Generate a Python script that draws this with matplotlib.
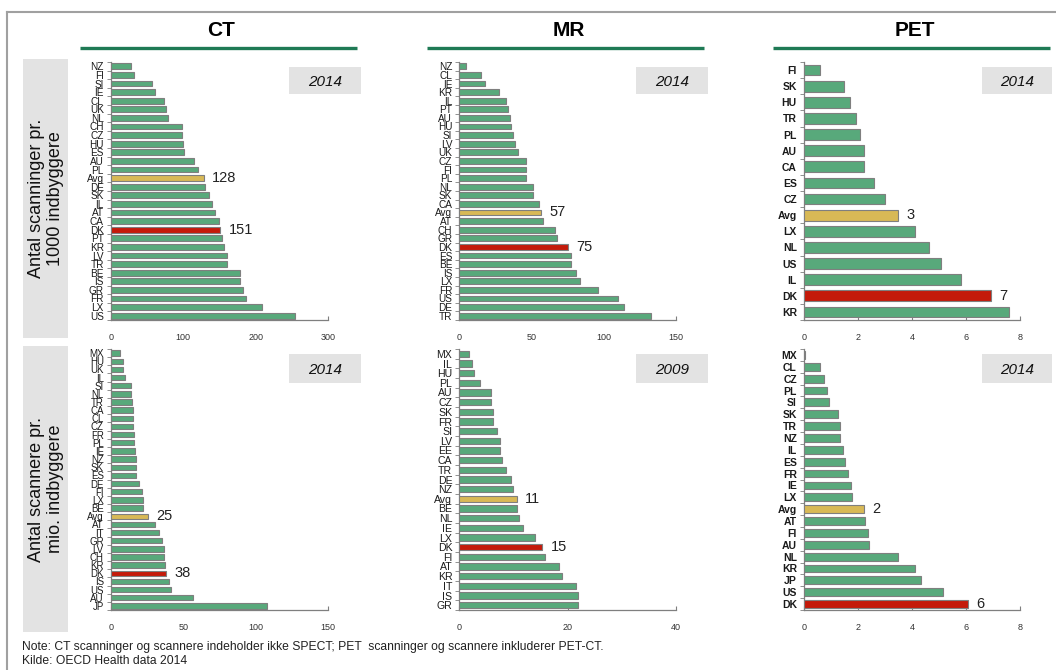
import numpy as np
import matplotlib.pyplot as plt
from matplotlib.patches import Rectangle
from matplotlib.lines import Line2D

plt.rcParams['font.family'] = ['Liberation Sans Narrow', 'Liberation Sans', 'DejaVu Sans']

# CT scanninger pr. 1000 indbyggere (2014)
ct_scan_land = ['NZ', 'FI', 'SI', 'IE', 'CL', 'UK', 'NL', 'CH', 'CZ', 'HU', 'ES', 'AU', 'PL', 'Avg',
                'DE', 'SK', 'IL', 'AT', 'CA', 'DK', 'PT', 'KR', 'LV', 'TR', 'BE', 'IS', 'GR', 'FR', 'LX', 'US']
ct_scan_val = [28, 32, 57, 61, 74, 76, 79, 98, 98, 99, 101, 115, 121, 128,
               130, 135, 140, 144, 149, 151, 153, 156, 160, 160, 178, 178, 182, 187, 208, 254]

# MR scanninger pr. 1000 indbyggere (2014)
mr_scan_land = ['NZ', 'CL', 'IE', 'KR', 'IL', 'PT', 'AU', 'HU', 'SI', 'LV', 'UK', 'CZ', 'FI', 'PL', 'NL',
                'SK', 'CA', 'Avg', 'AT', 'CH', 'GR', 'DK', 'ES', 'BE', 'IS', 'LX', 'FR', 'US', 'DE', 'TR']
mr_scan_val = [4.6, 14.8, 17.8, 27.2, 32, 33.5, 34.8, 35.5, 37, 38.3, 40.4, 46.4, 46.4, 46.4, 51.2,
               51.2, 55.4, 56.8, 58.2, 66.2, 67.6, 75, 77.3, 77.3, 80.5, 83.3, 95.8, 110, 114, 133]

# PET scanninger pr. 1000 indbyggere (2014)
pet_scan_land = ['FI', 'SK', 'HU', 'TR', 'PL', 'AU', 'CA', 'ES', 'CZ', 'Avg', 'LX', 'NL', 'US', 'IL', 'DK', 'KR']
pet_scan_val = [0.59, 1.5, 1.73, 1.95, 2.1, 2.24, 2.24, 2.61, 3.0, 3.48, 4.1, 4.62, 5.09, 5.82, 6.94, 7.61]

# CT scannere pr. mio. indbyggere (2014)
ct_unit_land = ['MX', 'HU', 'UK', 'IL', 'SI', 'NL', 'TR', 'CA', 'CL', 'CZ', 'FR', 'PL', 'IE', 'NZ', 'SK', 'ES',
                'DE', 'FI', 'LX', 'BE', 'Avg', 'AT', 'IT', 'GR', 'LV', 'CH', 'KR', 'DK', 'IS', 'US', 'AU', 'JP']
ct_unit_val = [6.2, 8.3, 8.3, 9.7, 13.9, 13.9, 14.6, 15.3, 15.3, 15.2, 15.9, 15.9, 16.6, 17.3, 17.3, 17.3,
               19.2, 21.3, 22.2, 22.2, 25.4, 30.3, 33, 35.6, 36.5, 36.5, 37.2, 37.9, 40, 41.4, 56.4, 107.7]

# MR scannere pr. mio. indbyggere (2009)
mr_unit_land = ['MX', 'IL', 'HU', 'PL', 'AU', 'CZ', 'SK', 'FR', 'SI', 'LV', 'EE', 'CA', 'TR', 'DE',
                'NZ', 'Avg', 'BE', 'NL', 'IE', 'LX', 'DK', 'FI', 'AT', 'KR', 'IT', 'IS', 'GR']
mr_unit_val = [1.85, 2.34, 2.7, 3.8, 5.8, 5.8, 6.15, 6.3, 6.9, 7.45, 7.45, 7.8, 8.7, 9.5,
               9.85, 10.6, 10.6, 10.95, 11.7, 14.0, 15.3, 15.9, 18.4, 18.95, 21.5, 22.0, 22.0]

# PET scannere pr. mio. indbyggere (2014)
pet_unit_land = ['MX', 'CL', 'CZ', 'PL', 'SI', 'SK', 'TR', 'NZ', 'IL', 'ES', 'FR', 'IE', 'LX', 'Avg',
                 'AT', 'FI', 'AU', 'NL', 'KR', 'JP', 'US', 'DK']
pet_unit_val = [0.06, 0.59, 0.76, 0.87, 0.95, 1.28, 1.35, 1.35, 1.46, 1.54, 1.65, 1.76, 1.79, 2.24,
                2.27, 2.37, 2.41, 3.5, 4.12, 4.34, 5.17, 6.07]

kolonner = ['CT', 'MR', 'PET']
rækker = ['Antal scanninger pr.\n1000 indbyggere', 'Antal scannere pr.\nmio. indbyggere']
år = [['2014', '2014', '2014'], ['2014', '2009', '2014']]
xmax = [[300, 150, 8], [150, 40, 8]]
xstep = [[100, 50, 2], [50, 20, 2]]

GRØN = '#58a97b'
RØD = '#c41a0a'
GUL = '#d8b956'
KANT = '#7f7f7f'
MØRKGRØN = '#1f7a55'
BOKS = '#e3e3e3'

W, H = 1056, 670
fig = plt.figure(figsize=(W / 100, H / 100), dpi=100)


def fbox(x0, y0, x1, y1):
    # pixel box (top-left origin) -> figure fraction [left, bottom, width, height]
    return [x0 / W, 1 - y1 / H, (x1 - x0) / W, (y1 - y0) / H]


def bar_panel(rect, lande, vals, xm, step, fs, vægt):
    ax = fig.add_axes(rect)
    n = len(lande)
    pos = np.arange(n)
    farver = [RØD if l == 'DK' else GUL if l == 'Avg' else GRØN for l in lande]
    ax.barh(pos, vals, height=0.66, color=farver, edgecolor=KANT, linewidth=0.8, zorder=3)
    for i, (l, v) in enumerate(zip(lande, vals)):
        if l in ('DK', 'Avg'):
            ax.annotate(f'{v:.0f}', (v, i), xytext=(6, 0), textcoords='offset points',
                        va='center', ha='left', fontsize=10.5, color='#222222',
                        family=['Liberation Sans', 'DejaVu Sans'])
    ax.set_ylim(n - 0.5, -0.5)
    ax.set_xlim(0, xm)
    ax.set_yticks(pos)
    ax.set_yticklabels(lande, fontsize=fs, fontweight=vægt, color='#1a1a1a')
    ax.set_yticks(np.arange(n + 1) - 0.5, minor=True)
    ax.tick_params(axis='y', which='major', length=0, pad=5)
    ax.tick_params(axis='y', which='minor', length=3, direction='out', color=KANT)
    ax.set_xticks(np.arange(0, xm + step / 2, step))
    ax.set_xticklabels([str(t) for t in range(0, xm + 1, step)], fontsize=6.5, color='#333333',
                       family=['Liberation Sans', 'DejaVu Sans'])
    ax.tick_params(axis='x', length=3, direction='in', color=KANT, pad=9)
    for s in ('top', 'right'):
        ax.spines[s].set_visible(False)
    for s in ('left', 'bottom'):
        ax.spines[s].set_color(KANT)
        ax.spines[s].set_linewidth(0.9)
    ax.set_facecolor('none')
    return ax


data = [[(ct_scan_land, ct_scan_val), (mr_scan_land, mr_scan_val), (pet_scan_land, pet_scan_val)],
        [(ct_unit_land, ct_unit_val), (mr_unit_land, mr_unit_val), (pet_unit_land, pet_unit_val)]]

ax_x = [(110.7, 328.3), (459.3, 676), (803.7, 1020)]
ax_y = [(62, 320), (349, 610)]
fontstr = [[7.2, 7.2, 7.5], [7, 7.6, 7.5]]
vægte = [['normal', 'normal', 'bold'], ['normal', 'normal', 'bold']]

for r in range(2):
    for c in range(3):
        lande, vals = data[r][c]
        x0, x1 = ax_x[c]
        y0, y1 = ax_y[r]
        bar_panel(fbox(x0, y0, x1, y1), lande, vals, xmax[r][c], xstep[r][c],
                  fontstr[r][c], vægte[r][c])

# overlay axis for frames, titles and text in pixel coordinates
ov = fig.add_axes([0, 0, 1, 1], zorder=-1)
ov.set_xlim(0, W)
ov.set_ylim(H, 0)
ov.axis('off')

# outer frame running off the right and bottom edge
ov.add_line(Line2D([7, 7], [12, H + 5], color='#a0a0a0', lw=1.5))
ov.add_line(Line2D([7, W + 5], [12, 12], color='#a0a0a0', lw=1.5))

# column titles with green rule
linjer = [(80, 357), (427, 704), (773, 1050)]
for titel, (a, b) in zip(kolonner, linjer):
    ov.text((a + b) / 2 + 3, 31, titel, fontsize=15, fontweight='bold', ha='center', va='center')
    ov.add_line(Line2D([a, b], [48, 48], color=MØRKGRØN, lw=2.4, solid_capstyle='butt'))

# row labels in grey boxes
for tekst, (y0, y1) in zip(rækker, [(59, 338), (346, 632)]):
    ov.add_patch(Rectangle((23, y0), 45, y1 - y0, color=BOKS, lw=0))
    ov.text(46, (y0 + y1) / 2, tekst, rotation=90, ha='center', va='center', fontsize=13,
            linespacing=1.15, family=['Liberation Sans', 'DejaVu Sans'], color='#111111')

# year boxes
boks_x = [(289, 361), (636, 708), (982, 1052)]
for r, (y0, y1) in enumerate([(67, 94), (354, 383)]):
    for c, (a, b) in enumerate(boks_x):
        ov.add_patch(Rectangle((a, y0), b - a, y1 - y0, color=BOKS, lw=0))
        ov.text((a + b) / 2, (y0 + y1) / 2 + 1, år[r][c], fontsize=11, style='italic',
                ha='center', va='center', family=['Liberation Sans', 'DejaVu Sans'], color='#111111')

ov.text(22, 647, 'Note: CT scanninger og scannere indeholder ikke SPECT; PET  scanninger og scannere inkluderer PET-CT.',
        fontsize=8.7, va='center', ha='left', color='#222222')
ov.text(22, 661, 'Kilde: OECD Health data 2014', fontsize=8.7, va='center', ha='left', color='#222222')

fig.savefig('out.png', dpi=100)
